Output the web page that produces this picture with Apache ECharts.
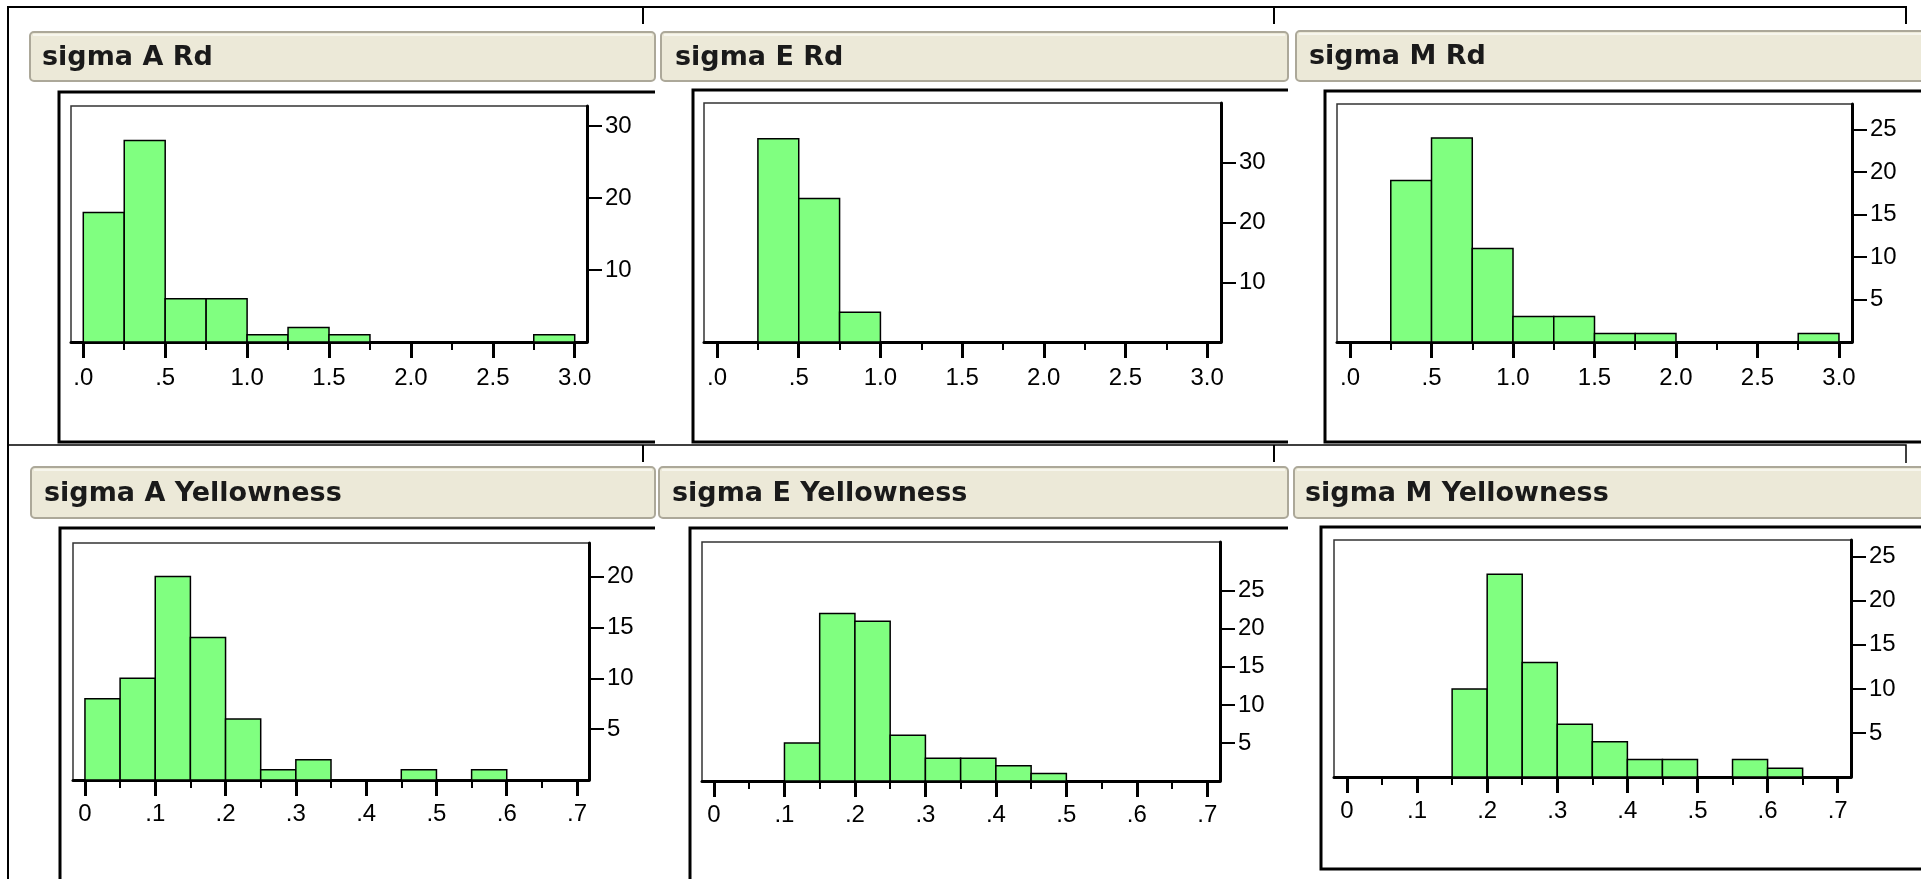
<!DOCTYPE html>
<html><head><meta charset="utf-8">
<script src="https://cdn.jsdelivr.net/npm/echarts@6/dist/echarts.min.js"></script>
<style>html,body{margin:0;padding:0;background:#fff;overflow:hidden}#c{width:1921px;height:879px}</style>
</head><body><div id="c"></div>
<script>
// ---------- DATA ----------
const titles = ['sigma A Rd', 'sigma E Rd', 'sigma M Rd', 'sigma A Yellowness', 'sigma E Yellowness', 'sigma M Yellowness'];

// Rd histograms: bin edges (width 0.25) and counts per bin
const rdEdges = [0, 0.25, 0.5, 0.75, 1.0, 1.25, 1.5, 1.75, 2.0, 2.25, 2.5, 2.75, 3.0];
const aRdCounts = [18, 28, 6, 6, 1, 2, 1, 0, 0, 0, 0, 1];
const eRdCounts = [0, 34, 24, 5, 0, 0, 0, 0, 0, 0, 0, 0];
const mRdCounts = [0, 19, 24, 11, 3, 3, 1, 1, 0, 0, 0, 1];

// Yellowness histograms: bin edges (width 0.05) and counts per bin
const yelEdges = [0, 0.05, 0.1, 0.15, 0.2, 0.25, 0.3, 0.35, 0.4, 0.45, 0.5, 0.55, 0.6, 0.65, 0.7];
const aYelCounts = [8, 10, 20, 14, 6, 1, 2, 0, 0, 1, 0, 1, 0, 0];
const eYelCounts = [0, 0, 5, 22, 21, 6, 3, 3, 2, 1, 0, 0, 0, 0];
const mYelCounts = [0, 0, 0, 10, 23, 13, 6, 4, 2, 2, 0, 2, 1, 0];

// Tick values and labels
const rdXTicks = [0, 0.5, 1.0, 1.5, 2.0, 2.5, 3.0];
const rdXLabels = ['.0', '.5', '1.0', '1.5', '2.0', '2.5', '3.0'];
const rdXMinor = [0.25, 0.75, 1.25, 1.75, 2.25, 2.75];
const yelXTicks = [0, 0.1, 0.2, 0.3, 0.4, 0.5, 0.6, 0.7];
const yelXLabels = ['0', '.1', '.2', '.3', '.4', '.5', '.6', '.7'];
const yelXMinor = [0.05, 0.15, 0.25, 0.35, 0.45, 0.55, 0.65];
const aRdYTicks = [10, 20, 30];
const eRdYTicks = [10, 20, 30];
const mRdYTicks = [5, 10, 15, 20, 25];
const aYelYTicks = [5, 10, 15, 20];
const eYelYTicks = [5, 10, 15, 20, 25];
const mYelYTicks = [5, 10, 15, 20, 25];

// ---------- LAYOUT ----------
const panels = [
  {edges: rdEdges, counts: aRdCounts, yTicks: aRdYTicks, yMax: 32.8, xMin: -0.075, xMax: 3.075, xTicks: rdXTicks, xLabels: rdXLabels, minor: rdXMinor, lm: 24,
   grid: {left: 71, top: 106, width: 516, height: 236}},
  {edges: rdEdges, counts: eRdCounts, yTicks: eRdYTicks, yMax: 40, xMin: -0.08, xMax: 3.085, xTicks: rdXTicks, xLabels: rdXLabels, minor: rdXMinor, lm: 24,
   grid: {left: 704, top: 103, width: 517, height: 239}},
  {edges: rdEdges, counts: mRdCounts, yTicks: mRdYTicks, yMax: 28, xMin: -0.08, xMax: 3.08, xTicks: rdXTicks, xLabels: rdXLabels, minor: rdXMinor, lm: 24,
   grid: {left: 1337, top: 104, width: 515, height: 238}},
  {edges: yelEdges, counts: aYelCounts, yTicks: aYelYTicks, yMax: 23.3, xMin: -0.017, xMax: 0.717, xTicks: yelXTicks, xLabels: yelXLabels, minor: yelXMinor, lm: 22,
   grid: {left: 73, top: 543, width: 516, height: 237}},
  {edges: yelEdges, counts: eYelCounts, yTicks: eYelYTicks, yMax: 31.4, xMin: -0.017, xMax: 0.718, xTicks: yelXTicks, xLabels: yelXLabels, minor: yelXMinor, lm: 22,
   grid: {left: 702, top: 542, width: 518, height: 239}},
  {edges: yelEdges, counts: mYelCounts, yTicks: mYelYTicks, yMax: 26.9, xMin: -0.0185, xMax: 0.719, xTicks: yelXTicks, xLabels: yelXLabels, minor: yelXMinor, lm: 22,
   grid: {left: 1334, top: 540, width: 517, height: 237}}
];

const titleBars = [
  {x: 30, y: 32, w: 625, h: 49, tx: 42},
  {x: 661, y: 32, w: 627, h: 49, tx: 675},
  {x: 1296, y: 31, w: 640, h: 50, tx: 1309},
  {x: 31, y: 467, w: 624, h: 51, tx: 44},
  {x: 659, y: 467, w: 629, h: 51, tx: 672},
  {x: 1294, y: 467, w: 640, h: 51, tx: 1305}
];
const frames = [
  [[655, 92], [59, 92], [59, 442], [655, 442]],
  [[1288, 90], [693, 90], [693, 442], [1288, 442]],
  [[1925, 91], [1325, 91], [1325, 442], [1925, 442]],
  [[655, 528], [60, 528], [60, 885]],
  [[1288, 528], [690, 528], [690, 885]],
  [[1925, 527], [1321, 527], [1321, 869], [1925, 869]]
];

const FONT = 'Liberation Sans, Arial, sans-serif';
const grids = [], xAxes = [], yAxes = [], series = [], graphics = [];

function labelFor(ticks, labels) {
  return function (v) {
    for (let i = 0; i < ticks.length; i++) if (Math.abs(ticks[i] - v) < 1e-6) return labels[i];
    return '';
  };
}

panels.forEach(function (p, i) {
  grids.push(Object.assign({show: true, backgroundColor: '#fff', borderColor: '#333', borderWidth: 1.5}, p.grid));
  // major x axis with labels
  xAxes.push({
    type: 'value', gridIndex: i, position: 'bottom', min: p.xMin, max: p.xMax,
    axisLine: {show: true, onZero: false, lineStyle: {color: '#000', width: 3}},
    axisTick: {show: true, customValues: p.xTicks, length: 16, lineStyle: {color: '#000', width: 3}},
    axisLabel: {show: true, customValues: p.xTicks, formatter: labelFor(p.xTicks, p.xLabels), margin: p.lm,
      color: '#000', fontFamily: FONT, fontSize: 24},
    splitLine: {show: false}
  });
  // minor x axis: short ticks only
  xAxes.push({
    type: 'value', gridIndex: i, position: 'bottom', min: p.xMin, max: p.xMax,
    axisLine: {show: false, onZero: false},
    axisTick: {show: true, customValues: p.minor, length: 8, lineStyle: {color: '#000', width: 2}},
    axisLabel: {show: false},
    splitLine: {show: false}
  });
  yAxes.push({
    type: 'value', gridIndex: i, position: 'right', min: 0, max: p.yMax,
    axisLine: {show: true, onZero: false, lineStyle: {color: '#000', width: 3}},
    axisTick: {show: true, customValues: p.yTicks, length: 15, lineStyle: {color: '#000', width: 2}},
    axisLabel: {show: true, customValues: p.yTicks, margin: 18, color: '#000', fontFamily: FONT, fontSize: 24},
    splitLine: {show: false}
  });
  const data = p.counts.map(function (c, k) { return [p.edges[k], p.edges[k + 1], c]; });
  series.push({
    type: 'custom', xAxisIndex: 2 * i, yAxisIndex: i, data: data, z: 3,
    renderItem: function (params, api) {
      const c = api.value(2);
      if (!c) return null;
      const a = api.coord([api.value(0), 0]);
      const b = api.coord([api.value(1), c]);
      return {type: 'rect', shape: {x: a[0], y: b[1], width: b[0] - a[0], height: a[1] - b[1]},
        style: {fill: '#80ff80', stroke: '#000', lineWidth: 1.5}};
    }
  });
});

// decorations: outer lines, title bars, inner frames
graphics.push({type: 'polyline', shape: {points: [[8, 885], [8, 7], [1906, 7], [1906, 24]]}, style: {stroke: '#000', lineWidth: 2, fill: null}});
graphics.push({type: 'line', shape: {x1: 643, y1: 7, x2: 643, y2: 24}, style: {stroke: '#000', lineWidth: 2}});
graphics.push({type: 'line', shape: {x1: 1274, y1: 7, x2: 1274, y2: 24}, style: {stroke: '#000', lineWidth: 2}});
graphics.push({type: 'polyline', shape: {points: [[8, 445], [1906, 445], [1906, 463]]}, style: {stroke: '#000', lineWidth: 1.5, fill: null}});
graphics.push({type: 'line', shape: {x1: 643, y1: 445, x2: 643, y2: 462}, style: {stroke: '#000', lineWidth: 2}});
graphics.push({type: 'line', shape: {x1: 1274, y1: 445, x2: 1274, y2: 462}, style: {stroke: '#000', lineWidth: 2}});

titleBars.forEach(function (t, i) {
  graphics.push({type: 'rect', shape: {x: t.x, y: t.y, width: t.w, height: t.h, r: 4},
    style: {fill: '#ece9d8', stroke: '#aca899', lineWidth: 2}});
  graphics.push({type: 'line', shape: {x1: t.x + 3, y1: t.y + 3, x2: t.x + t.w - 3, y2: t.y + 3},
    style: {stroke: '#fbfaf4', lineWidth: 1.5}});
  graphics.push({type: 'text', x: t.tx, y: t.y + t.h / 2 + 1,
    style: {text: titles[i], fill: '#1a1a1a', font: 'bold 27px "DejaVu Sans", sans-serif', verticalAlign: 'middle', align: 'left'}});
});
frames.forEach(function (pts) {
  graphics.push({type: 'polyline', shape: {points: pts}, style: {stroke: '#000', lineWidth: 3, fill: null}});
});

const chart = echarts.init(document.getElementById('c'), null, {renderer: 'canvas'});
chart.setOption({
  animation: false,
  backgroundColor: '#fff',
  grid: grids, xAxis: xAxes, yAxis: yAxes, series: series,
  graphic: {elements: graphics}
});
</script>
</body></html>
